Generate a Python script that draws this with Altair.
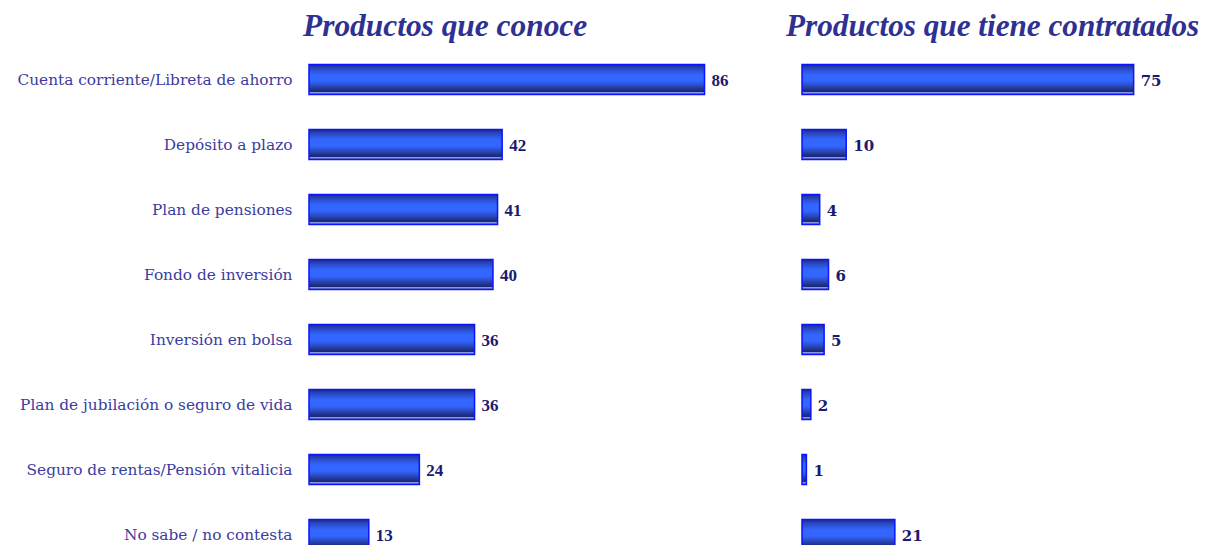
import altair as alt
import pandas as pd

categories = [
    "Cuenta corriente/Libreta de ahorro",
    "Depósito a plazo",
    "Plan de pensiones",
    "Fondo de inversión",
    "Inversión en bolsa",
    "Plan de jubilación o seguro de vida",
    "Seguro de rentas/Pensión vitalicia",
    "No sabe / no contesta",
]
conoce = [86, 42, 41, 40, 36, 36, 24, 13]
contratados = [75, 10, 4, 6, 5, 2, 1, 21]

title_left = "Productos que conoce"
title_right = "Productos que tiene contratados"

df = pd.DataFrame({"cat": categories, "conoce": conoce, "contratados": contratados})

grad = alt.Gradient(
    gradient="linear",
    x1=0, x2=0, y1=0, y2=1,
    stops=[
        alt.GradientStop(color="#1f2c85", offset=0.0),
        alt.GradientStop(color="#2a48c4", offset=0.14),
        alt.GradientStop(color="#3366ff", offset=0.34),
        alt.GradientStop(color="#3366ff", offset=0.55),
        alt.GradientStop(color="#2948bc", offset=0.72),
        alt.GradientStop(color="#1d2e80", offset=0.86),
        alt.GradientStop(color="#1a2a76", offset=0.9),
        alt.GradientStop(color="#8a96e0", offset=0.93),
        alt.GradientStop(color="#8a96e0", offset=0.95),
        alt.GradientStop(color="#2a3a9a", offset=1.0),
    ],
)

title_color = "#2e3192"
val_color = "#1a1a6e"


def panel(field, width, dmax, title, dx, tsize, show_axis, val_font, val_size):
    y_axis = (
        alt.Axis(
            title=None, domain=False, ticks=False, grid=False,
            labelFont="DejaVu Serif", labelFontSize=15.35, labelColor="#3c3ca0",
            labelPadding=17, labelLimit=400, minExtent=301, maxExtent=301,
        )
        if show_axis
        else None
    )
    y = alt.Y("cat:N", sort=categories, axis=y_axis,
              scale=alt.Scale(paddingInner=0, paddingOuter=0))
    x = alt.X(f"{field}:Q", axis=None, scale=alt.Scale(domain=[0, dmax], nice=False, zero=True))
    bars = alt.Chart(df).mark_bar(
        size=30, color=grad, stroke="#0a14ff", strokeWidth=1.5
    ).encode(x=x, y=y)
    labels = alt.Chart(df).mark_text(
        align="left", baseline="middle", dx=7, dy=1,
        font=val_font, fontWeight="bold", fontSize=val_size, color=val_color,
    ).encode(x=x, y=y, text=alt.Text(f"{field}:Q"))
    return alt.layer(bars, labels).properties(
        width=width,
        height=alt.Step(65),
        title=alt.TitleParams(
            text=title, anchor="start", frame="group", dx=dx, offset=5,
            font="Liberation Serif", fontSize=tsize, fontStyle="italic",
            fontWeight="bold", color=title_color,
        ),
    )


left = panel("conoce", 430, 93.5, title_left, -6, 31.4, True, "Liberation Serif", 17)
right = panel("contratados", 390, 88.2, title_right, -16, 31.2, False, "DejaVu Serif", 15)

chart = (
    alt.hconcat(left, right, spacing=47)
    .properties(padding={"left": 0, "top": 2, "right": 0, "bottom": 0})
    .configure_view(stroke=None)
)

chart.save("out.html", embed_options={"renderer": "svg", "actions": False})
